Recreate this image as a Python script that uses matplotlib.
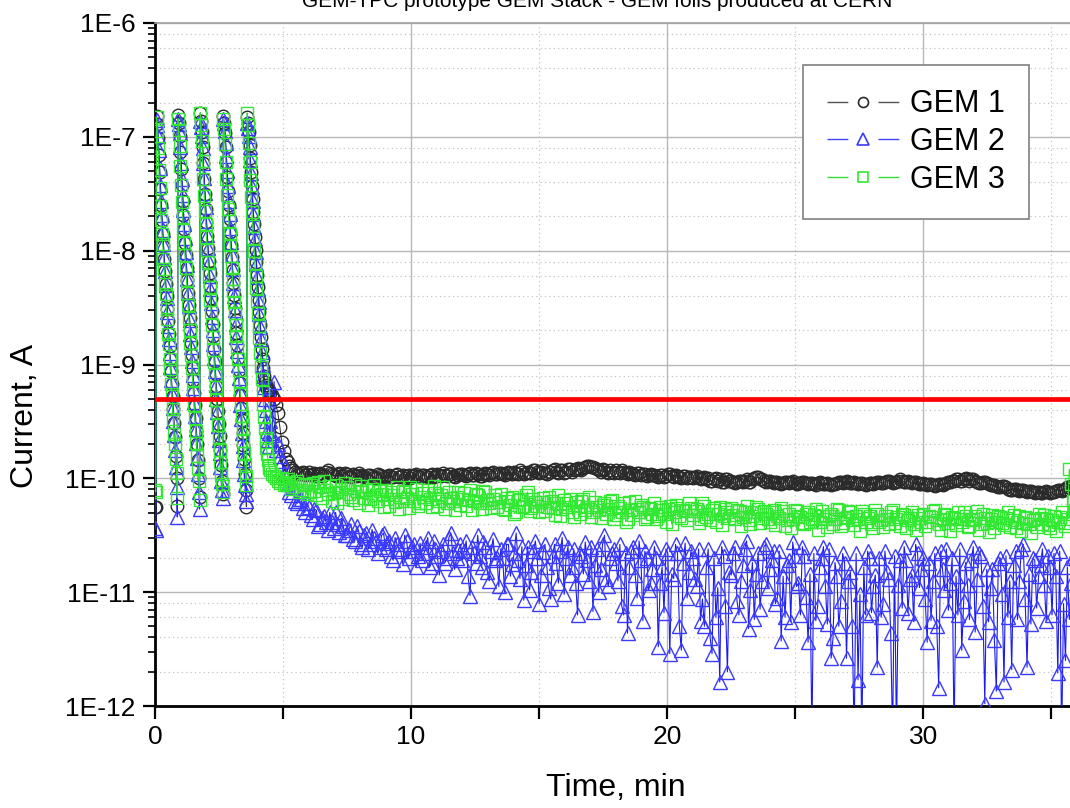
import numpy as np
import matplotlib
matplotlib.use('Agg')
import matplotlib.pyplot as plt
from matplotlib.lines import Line2D
from matplotlib.ticker import LogLocator, MultipleLocator, FuncFormatter, NullFormatter

plt.rcParams['font.family'] = ['Liberation Sans', 'DejaVu Sans']

# sampling of the readout: dense while the stack trips (0 - 4.5 min), sparser afterwards
spike_dt = 0.03
flat_t0 = 4.5
flat_dt = 0.15
# the *_mid lists sit halfway between the *_flat samples

# log10 of the current (A)
gem1_spikes = [
    -10.25, -10.25,
    -6.82, -6.89, -7.01, -7.16, -7.31, -7.46, -7.60, -7.73, -7.85, -7.96,
    -8.07, -8.18, -8.29, -8.40, -8.51, -8.62, -8.73, -8.84, -8.95, -9.06,
    -9.17, -9.28, -9.39, -9.51, -9.64, -9.80, -10.00, -10.24,
    -6.81, -6.88, -6.99, -7.13, -7.28, -7.42, -7.56, -7.69, -7.81, -7.93,
    -8.04, -8.15, -8.26, -8.37, -8.48, -8.59, -8.70, -8.81, -8.92, -9.03,
    -9.14, -9.25, -9.36, -9.47, -9.58, -9.70, -9.84, -10.00, -10.16,
    -6.79, -6.86, -6.96, -7.09, -7.23, -7.37, -7.50, -7.63, -7.75, -7.87,
    -7.98, -8.09, -8.20, -8.31, -8.42, -8.53, -8.64, -8.75, -8.86, -8.97,
    -9.08, -9.19, -9.30, -9.41, -9.52, -9.63, -9.75, -9.88, -10.02, -10.14,
    -6.82, -6.88, -6.97, -7.09, -7.22, -7.35, -7.48, -7.60, -7.72, -7.84,
    -7.95, -8.06, -8.17, -8.28, -8.39, -8.50, -8.61, -8.72, -8.83, -8.94,
    -9.05, -9.16, -9.27, -9.38, -9.49, -9.60, -9.71, -9.83, -9.96, -10.10, -10.25,
    -6.83, -6.88, -6.96, -7.07, -7.19, -7.31, -7.43, -7.55, -7.66, -7.77,
    -7.88, -7.99, -8.10, -8.21, -8.32, -8.43, -8.54, -8.65, -8.76, -8.86,
    -8.95, -9.03, -9.10, -9.15, -9.18, -9.20, -9.21, -9.22, -9.22, -9.23,
]
gem2_spikes = [
    -10.44, -10.45,
    -6.85, -6.90, -6.99, -7.12, -7.27, -7.42, -7.56, -7.69, -7.82, -7.94,
    -8.06, -8.18, -8.30, -8.42, -8.54, -8.66, -8.78, -8.90, -9.02, -9.14,
    -9.26, -9.38, -9.50, -9.62, -9.75, -9.90, -10.08, -10.34,
    -6.84, -6.89, -6.97, -7.09, -7.23, -7.37, -7.51, -7.64, -7.77, -7.89,
    -8.01, -8.13, -8.25, -8.37, -8.49, -8.61, -8.73, -8.85, -8.97, -9.09,
    -9.21, -9.33, -9.45, -9.57, -9.69, -9.82, -9.96, -10.12, -10.27,
    -6.86, -6.91, -6.99, -7.10, -7.23, -7.36, -7.49, -7.62, -7.74, -7.86,
    -7.98, -8.10, -8.22, -8.34, -8.46, -8.58, -8.70, -8.82, -8.94, -9.06,
    -9.18, -9.30, -9.42, -9.54, -9.66, -9.78, -9.90, -10.02, -10.10, -10.17,
    -6.84, -6.88, -6.95, -7.05, -7.17, -7.30, -7.43, -7.56, -7.68, -7.80,
    -7.92, -8.04, -8.16, -8.28, -8.40, -8.52, -8.64, -8.76, -8.88, -9.00,
    -9.12, -9.24, -9.36, -9.48, -9.60, -9.72, -9.84, -9.96, -10.06, -10.14, -10.20,
    -6.88, -6.92, -6.99, -7.09, -7.20, -7.32, -7.44, -7.56, -7.68, -7.79,
    -7.90, -8.01, -8.12, -8.23, -8.34, -8.45, -8.56, -8.67, -8.78, -8.89,
    -9.00, -9.10, -9.20, -9.30, -9.40, -9.50, -9.58, -9.66, -9.72, -9.60,
]
gem3_spikes = [
    -10.10, -10.12,
    -6.83, -6.95, -7.10, -7.29, -7.45, -7.61, -7.73, -7.85, -7.94, -8.07,
    -8.16, -8.29, -8.38, -8.51, -8.60, -8.73, -8.82, -8.95, -9.04, -9.17,
    -9.26, -9.39, -9.48, -9.61, -9.70, -9.83, -9.95, -10.17,
    -6.84, -6.94, -7.08, -7.26, -7.42, -7.57, -7.70, -7.82, -7.93, -8.04,
    -8.15, -8.26, -8.37, -8.48, -8.59, -8.70, -8.81, -8.92, -9.03, -9.14,
    -9.25, -9.36, -9.47, -9.58, -9.69, -9.80, -9.91, -10.02, -10.19,
    -6.79, -6.90, -7.04, -7.21, -7.37, -7.52, -7.65, -7.77, -7.88, -7.99,
    -8.10, -8.21, -8.32, -8.43, -8.54, -8.65, -8.76, -8.87, -8.98, -9.09,
    -9.20, -9.31, -9.42, -9.53, -9.64, -9.75, -9.86, -9.96, -10.05, -10.12,
    -6.84, -6.93, -7.06, -7.22, -7.37, -7.51, -7.63, -7.74, -7.85, -7.95,
    -8.05, -8.15, -8.25, -8.35, -8.45, -8.55, -8.65, -8.75, -8.85, -8.95,
    -9.05, -9.15, -9.25, -9.35, -9.45, -9.56, -9.67, -9.78, -9.89, -9.98, -10.06,
    -6.79, -6.90, -7.05, -7.22, -7.38, -7.53, -7.66, -7.78, -7.89, -8.00,
    -8.11, -8.22, -8.33, -8.44, -8.55, -8.66, -8.77, -8.90, -9.02, -9.13,
    -9.24, -9.35, -9.46, -9.56, -9.65, -9.73, -9.79, -9.84, -9.88, -9.91,
]

gem1_flat = [
    -9.25, -9.30, -9.43, -9.68, -9.83, -9.89, -9.93, -9.95, -9.95, -9.97,
    -9.94, -9.96, -9.98, -9.95, -9.97, -9.93, -9.96, -9.98, -9.95, -9.97,
    -9.96, -9.99, -9.97, -9.95, -9.98, -10.00, -9.97, -9.99, -9.96, -9.98,
    -10.00, -9.97, -9.99, -9.96, -9.98, -10.00, -9.97, -9.98, -9.96, -9.99,
    -9.97, -9.99, -9.96, -9.98, -9.97, -9.95, -9.98, -9.96, -9.99, -9.97,
    -9.96, -9.98, -9.95, -9.97, -9.96, -9.98, -9.95, -9.97, -9.94, -9.96,
    -9.95, -9.97, -9.94, -9.96, -9.95, -9.93, -9.96, -9.94, -9.95, -9.93,
    -9.95, -9.93, -9.96, -9.94, -9.92, -9.95, -9.93, -9.94, -9.92, -9.93,
    -9.91, -9.93, -9.90, -9.89, -9.90, -9.92, -9.94, -9.93, -9.95, -9.94,
    -9.93, -9.95, -9.94, -9.96, -9.95, -9.97, -9.95, -9.96, -9.98, -9.96,
    -9.97, -9.99, -9.97, -9.98, -9.96, -9.99, -9.98, -10.00, -9.98, -9.99,
    -10.00, -9.98, -10.01, -9.99, -10.00, -10.02, -10.00, -10.01, -10.03, -10.01,
    -10.02, -10.04, -10.02, -10.03, -10.01, -10.03, -10.00, -9.99, -10.01, -10.03,
    -10.02, -10.04, -10.03, -10.05, -10.03, -10.04, -10.02, -10.05, -10.04, -10.03,
    -10.05, -10.04, -10.06, -10.03, -10.05, -10.04, -10.06, -10.05, -10.03, -10.04,
    -10.02, -10.04, -10.03, -10.05, -10.04, -10.06, -10.04, -10.05, -10.03, -10.04,
    -10.03, -10.02, -10.04, -10.03, -10.01, -10.03, -10.02, -10.04, -10.03, -10.05,
    -10.04, -10.06, -10.05, -10.07, -10.05, -10.06, -10.04, -10.03, -10.02, -10.01,
    -10.02, -10.00, -10.02, -10.01, -10.03, -10.04, -10.03, -10.05, -10.06, -10.07,
    -10.08, -10.07, -10.09, -10.10, -10.09, -10.11, -10.10, -10.12, -10.11, -10.13,
    -10.12, -10.13, -10.11, -10.13, -10.12, -10.10, -10.11, -10.09, -10.08, -10.07, -10.08,
]
gem1_mid = [
    -9.27, -9.36, -9.55, -9.76, -9.86, -9.91, -9.94, -9.96, -9.94, -9.96,
    -9.97, -9.95, -9.96, -9.98, -9.94, -9.95, -9.97, -9.96, -9.98, -9.95,
    -9.98, -9.96, -9.98, -9.97, -9.99, -9.97, -9.98, -10.00, -9.97, -9.99,
    -9.98, -9.99, -9.97, -9.99, -9.97, -9.98, -10.00, -9.97, -9.98, -9.97,
    -9.98, -9.97, -9.99, -9.96, -9.98, -9.97, -9.96, -9.98, -9.97, -9.96,
    -9.97, -9.96, -9.97, -9.95, -9.98, -9.96, -9.96, -9.95, -9.96, -9.95,
    -9.96, -9.95, -9.95, -9.94, -9.96, -9.94, -9.95, -9.95, -9.93, -9.94,
    -9.94, -9.95, -9.94, -9.93, -9.94, -9.93, -9.95, -9.92, -9.94, -9.92,
    -9.92, -9.91, -9.89, -9.90, -9.91, -9.93, -9.92, -9.94, -9.93, -9.95,
    -9.94, -9.93, -9.95, -9.94, -9.96, -9.95, -9.97, -9.96, -9.97, -9.97,
    -9.98, -9.97, -9.99, -9.96, -9.98, -9.97, -9.99, -9.98, -10.00, -9.99,
    -9.99, -10.00, -10.00, -10.01, -10.02, -10.01, -10.02, -10.03, -10.01, -10.02,
    -10.03, -10.03, -10.02, -10.02, -10.03, -10.01, -9.99, -10.01, -10.02, -10.02,
    -10.03, -10.03, -10.04, -10.04, -10.03, -10.03, -10.04, -10.04, -10.03, -10.04,
    -10.04, -10.05, -10.04, -10.04, -10.05, -10.05, -10.05, -10.04, -10.03, -10.03,
    -10.03, -10.04, -10.04, -10.04, -10.05, -10.05, -10.04, -10.04, -10.03, -10.04,
    -10.02, -10.03, -10.03, -10.02, -10.02, -10.03, -10.03, -10.03, -10.04, -10.05,
    -10.05, -10.05, -10.06, -10.06, -10.05, -10.05, -10.03, -10.02, -10.01, -10.02,
    -10.01, -10.01, -10.01, -10.02, -10.04, -10.03, -10.04, -10.06, -10.06, -10.08,
    -10.07, -10.08, -10.10, -10.09, -10.10, -10.10, -10.11, -10.11, -10.12, -10.12,
    -10.13, -10.12, -10.12, -10.12, -10.11, -10.10, -10.10, -10.08, -10.07, -10.08,
]
# values below 1E-12 (the lines that run out of the bottom) are kept at -12.3
gem2_flat = [
    -9.50, -9.15, -9.70, -9.85, -10.00, -10.12, -10.08, -10.22, -10.18, -10.30,
    -10.25, -10.36, -10.28, -10.40, -10.33, -10.45, -10.38, -10.30, -10.47, -10.42,
    -10.50, -10.40, -10.55, -10.46, -10.60, -10.48, -10.58, -10.52, -10.66, -10.50,
    -10.62, -10.55, -10.72, -10.58, -10.64, -10.50, -10.70, -10.60, -10.78, -10.57,
    -10.66, -10.52, -10.74, -10.62, -10.85, -10.58, -10.70, -10.48, -10.80, -10.63,
    -10.72, -10.55, -11.03, -10.66, -10.50, -10.78, -10.60, -10.90, -10.53, -10.70,
    -10.62, -11.00, -10.58, -10.75, -10.48, -10.88, -11.07, -10.60, -10.82, -10.55,
    -11.10, -10.65, -10.78, -11.06, -10.58, -10.92, -10.52, -10.70, -10.85, -10.62,
    -11.20, -10.68, -10.56, -10.90, -11.17, -10.62, -10.80, -10.50, -10.95, -10.66,
    -10.74, -10.58, -11.20, -11.36, -10.64, -10.85, -10.55, -11.25, -10.70, -10.92,
    -10.60, -11.48, -10.78, -10.62, -11.54, -10.88, -10.66, -11.51, -10.57, -10.82,
    -10.70, -10.95, -11.25, -11.30, -10.62, -11.54, -11.22, -11.79, -10.68, -11.70,
    -10.85, -10.60, -11.20, -10.76, -10.55, -10.98, -11.24, -10.66, -10.90, -10.58,
    -10.80, -10.64, -11.05, -11.43, -11.22, -10.72, -10.56, -10.95, -11.20, -10.68,
    -11.44, -12.30, -11.25, -10.78, -10.60, -11.28, -11.58, -10.74, -11.30, -10.66,
    -11.58, -10.82, -12.30, -11.77, -12.30, -11.20, -10.70, -10.95, -11.66, -11.22,
    -10.64, -10.88, -12.30, -12.30, -10.72, -10.60, -11.18, -10.85, -10.58, -10.96,
    -10.70, -11.44, -11.25, -10.66, -11.84, -10.80, -10.62, -10.92, -12.30, -11.20,
    -11.51, -10.74, -11.24, -10.60, -10.88, -10.68, -11.98, -11.26, -10.80, -11.87,
    -10.70, -11.79, -11.22, -11.68, -10.64, -10.90, -10.58, -11.66, -11.28, -10.72,
    -10.86, -10.62, -11.25, -10.78, -10.66, -11.71, -12.30, -11.60, -11.24, -10.70, -10.85,
]
gem2_mid = [
    -9.62, -9.75, -9.80, -9.95, -10.05, -10.15, -10.20, -10.18, -10.26, -10.22,
    -10.32, -10.27, -10.42, -10.35, -10.38, -10.30, -10.44, -10.40, -10.35, -10.50,
    -10.45, -10.53, -10.42, -10.58, -10.50, -10.62, -10.45, -10.55, -10.60, -10.48,
    -10.57, -10.68, -10.52, -10.62, -10.75, -10.55, -10.64, -10.58, -10.68, -10.72,
    -10.60, -10.78, -10.55, -10.68, -10.64, -10.74, -10.52, -10.66, -10.70, -10.58,
    -10.64, -10.86, -10.60, -10.74, -10.68, -10.56, -10.82, -10.64, -10.72, -10.95,
    -10.70, -10.58, -10.86, -10.66, -10.72, -10.60, -10.76, -10.98, -10.64, -10.70,
    -10.85, -10.58, -10.96, -10.68, -10.74, -10.64, -11.02, -10.60, -10.78, -10.92,
    -10.66, -10.84, -10.72, -10.60, -10.76, -11.00, -10.58, -10.88, -10.70, -10.62,
    -10.90, -11.12, -10.66, -10.78, -10.60, -11.05, -10.72, -10.64, -10.98, -10.80,
    -10.70, -10.92, -11.18, -10.66, -10.84, -10.58, -11.30, -10.74, -11.05, -10.64,
    -10.88, -10.62, -11.06, -10.78, -11.40, -10.70, -10.96, -10.60, -11.12, -10.82,
    -10.66, -11.08, -10.90, -10.62, -11.32, -10.74, -10.84, -11.15, -10.60, -10.96,
    -10.72, -11.10, -10.64, -10.86, -10.76, -11.26, -10.68, -10.92, -10.60, -11.04,
    -10.84, -10.66, -11.12, -10.70, -10.95, -10.62, -11.40, -10.86, -11.08, -10.74,
    -10.90, -11.30, -10.66, -11.02, -10.78, -10.64, -11.18, -10.85, -10.70, -11.10,
    -10.82, -11.36, -10.68, -10.94, -11.14, -10.72, -10.88, -11.26, -10.66, -10.80,
    -11.06, -10.74, -10.90, -11.30, -10.64, -10.98, -11.16, -10.70, -10.86, -10.62,
    -11.08, -10.94, -10.72, -11.35, -10.66, -11.12, -10.80, -10.96, -11.42, -10.74,
    -11.02, -10.68, -10.90, -10.76, -11.24, -10.62, -11.06, -10.84, -10.70, -11.14,
    -10.76, -10.94, -10.68, -11.20, -10.86, -10.64, -11.10, -10.78, -10.92, -10.66,
]
gem3_flat = [
    -9.93, -9.98, -10.02, -10.00, -10.05, -10.03, -10.08, -10.02, -10.10, -10.05,
    -10.12, -10.04, -10.15, -10.08, -10.02, -10.14, -10.20, -10.06, -10.12, -10.18,
    -10.08, -10.16, -10.05, -10.22, -10.12, -10.10, -10.18, -10.06, -10.20, -10.14,
    -10.10, -10.24, -10.15, -10.08, -10.20, -10.12, -10.26, -10.14, -10.09, -10.22,
    -10.16, -10.10, -10.25, -10.13, -10.20, -10.08, -10.22, -10.17, -10.28, -10.12,
    -10.18, -10.24, -10.10, -10.20, -10.15, -10.27, -10.12, -10.22, -10.18, -10.25,
    -10.14, -10.28, -10.20, -10.16, -10.30, -10.18, -10.24, -10.12, -10.26, -10.21,
    -10.30, -10.17, -10.25, -10.20, -10.32, -10.15, -10.27, -10.22, -10.18, -10.34,
    -10.24, -10.20, -10.28, -10.16, -10.30, -10.25, -10.35, -10.22, -10.27, -10.19,
    -10.32, -10.26, -10.22, -10.36, -10.28, -10.20, -10.30, -10.25, -10.34, -10.27,
    -10.22, -10.33, -10.28, -10.38, -10.24, -10.30, -10.26, -10.35, -10.29, -10.22,
    -10.32, -10.27, -10.36, -10.24, -10.31, -10.28, -10.38, -10.25, -10.33, -10.30,
    -10.26, -10.36, -10.29, -10.34, -10.24, -10.40, -10.30, -10.27, -10.35, -10.31,
    -10.38, -10.28, -10.33, -10.26, -10.42, -10.31, -10.36, -10.29, -10.34, -10.40,
    -10.30, -10.36, -10.27, -10.38, -10.33, -10.43, -10.31, -10.36, -10.28, -10.39,
    -10.34, -10.30, -10.41, -10.36, -10.29, -10.38, -10.33, -10.44, -10.31, -10.37,
    -10.33, -10.40, -10.28, -10.36, -10.42, -10.32, -10.37, -10.30, -10.45, -10.35,
    -10.31, -10.38, -10.34, -10.28, -10.40, -10.36, -10.32, -10.46, -10.35, -10.30,
    -10.38, -10.33, -10.42, -10.36, -10.29, -10.40, -10.35, -10.47, -10.32, -10.38,
    -10.34, -10.41, -10.30, -10.37, -10.44, -10.33, -10.39, -10.35, -10.48, -10.36,
    -10.31, -10.40, -10.36, -10.44, -10.33, -10.38, -10.30, -10.42, -9.92, -10.20, -10.34,
]
gem3_mid = [
    -9.96, -10.00, -10.04, -10.06, -10.01, -10.09, -10.04, -10.12, -10.06, -10.14,
    -10.06, -10.11, -10.03, -10.17, -10.10, -10.07, -10.13, -10.22, -10.09, -10.04,
    -10.14, -10.19, -10.11, -10.07, -10.17, -10.23, -10.09, -10.15, -10.11, -10.25,
    -10.18, -10.12, -10.21, -10.27, -10.11, -10.17, -10.08, -10.20, -10.24, -10.13,
    -10.22, -10.18, -10.07, -10.24, -10.15, -10.27, -10.12, -10.20, -10.16, -10.23,
    -10.13, -10.19, -10.28, -10.14, -10.22, -10.11, -10.19, -10.26, -10.15, -10.21,
    -10.27, -10.17, -10.23, -10.31, -10.19, -10.25, -10.15, -10.29, -10.18, -10.24,
    -10.21, -10.29, -10.16, -10.26, -10.22, -10.33, -10.19, -10.25, -10.30, -10.21,
    -10.31, -10.18, -10.25, -10.34, -10.21, -10.28, -10.23, -10.31, -10.20, -10.36,
    -10.24, -10.30, -10.38, -10.21, -10.32, -10.27, -10.23, -10.36, -10.26, -10.31,
    -10.36, -10.25, -10.31, -10.27, -10.40, -10.23, -10.33, -10.28, -10.37, -10.26,
    -10.29, -10.39, -10.22, -10.34, -10.37, -10.26, -10.31, -10.41, -10.27, -10.35,
    -10.32, -10.28, -10.42, -10.30, -10.37, -10.33, -10.25, -10.39, -10.29, -10.36,
    -10.30, -10.41, -10.35, -10.29, -10.37, -10.44, -10.28, -10.33, -10.39, -10.31,
    -10.38, -10.32, -10.45, -10.29, -10.36, -10.33, -10.40, -10.27, -10.42, -10.35,
    -10.29, -10.37, -10.33, -10.46, -10.31, -10.35, -10.40, -10.28, -10.38, -10.43,
    -10.36, -10.30, -10.39, -10.34, -10.31, -10.44, -10.35, -10.40, -10.32, -10.38,
    -10.42, -10.33, -10.29, -10.37, -10.45, -10.31, -10.39, -10.34, -10.41, -10.36,
    -10.30, -10.43, -10.37, -10.33, -10.45, -10.31, -10.39, -10.36, -10.44, -10.33,
    -10.39, -10.35, -10.43, -10.32, -10.38, -10.46, -10.34, -10.40, -10.37, -10.43,
    -10.35, -10.32, -10.41, -10.37, -10.46, -10.34, -10.39, -10.36, -10.05, -10.28,
]

trip_limit = 5e-10
series_names = ['GEM 1', 'GEM 2', 'GEM 3']
title = 'GEM-TPC prototype GEM Stack - GEM foils produced at CERN'

# line colour, marker edge colour, marker, marker size
styles = [
    ('#3a3a3a', '#2a2a2a', 'o', 9),
    ('#1c1cf0', '#3a3aff', '^', 10.5),
    ('#2ade2a', '#33e833', 's', 8.5),
]


def series_points(spikes, flat, mid):
    t = np.concatenate([
        np.arange(len(spikes)) * spike_dt,
        flat_t0 + np.arange(len(flat)) * flat_dt,
        flat_t0 + flat_dt / 2 + np.arange(len(mid)) * flat_dt,
    ])
    logi = np.array(spikes + flat + mid)
    order = np.argsort(t, kind='stable')
    return t[order], 10.0 ** logi[order]


def draw_series(ax, spikes, flat, mid, style):
    line_c, edge_c, marker, ms = style
    t, current = series_points(spikes, flat, mid)
    ax.plot(t, current, color=line_c, lw=0.8, marker=marker, ms=ms,
            mfc='none', mec=edge_c, mew=1.0, zorder=3)


def legend_handles():
    # Origin style key: line - gap - symbol - gap - line
    handles = []
    legend_line = ['#555555', '#4444ee', '#33dd33']
    for (line_c, edge_c, marker, ms), lc in zip(styles, legend_line):
        handles.append(Line2D([], [], color=lc, lw=1.0, ls=(0, (15, 21.7, 15, 60)),
                              marker=marker, ms=ms * 0.8, mfc='none', mec=edge_c, mew=1.2))
    return handles


def main():
    fig = plt.figure(figsize=(10.7, 8.08), dpi=100)
    # plot area runs a bit past the right border of the picture, like the cropped original
    ax = fig.add_axes([155 / 1070, 102 / 808, 922 / 1070, 683 / 808])

    draw_series(ax, gem1_spikes, gem1_flat, gem1_mid, styles[0])
    draw_series(ax, gem2_spikes, gem2_flat, gem2_mid, styles[1])
    draw_series(ax, gem3_spikes, gem3_flat, gem3_mid, styles[2])

    ax.axhline(trip_limit, color='#ff0000', lw=3.4, zorder=5)

    ax.set_yscale('log')
    ax.set_ylim(1e-12, 1e-6)
    ax.set_xlim(0, 36)

    ax.yaxis.set_major_locator(LogLocator(base=10, numticks=10))
    ax.yaxis.set_minor_locator(LogLocator(base=10, subs=range(2, 10), numticks=20))
    ax.yaxis.set_major_formatter(FuncFormatter(lambda v, p: '1E%d' % round(np.log10(v))))
    ax.yaxis.set_minor_formatter(NullFormatter())
    ax.xaxis.set_major_locator(MultipleLocator(10))
    ax.xaxis.set_minor_locator(MultipleLocator(5))

    # grid: solid at decades / every 10 min, dotted in between
    ax.grid(which='major', color='#b8b8b8', lw=1.0, zorder=0)
    for d in range(-12, -6):
        for m in (2, 4, 6, 8):
            ax.axhline(m * 10.0 ** d, color='#c4c4c4', lw=0.9, ls=(0, (1, 2.5)), zorder=0)
    for x in (5, 15, 25, 35):
        ax.axvline(x, color='#c4c4c4', lw=0.9, ls=(0, (1, 2.5)), zorder=0)

    ax.tick_params(axis='both', which='major', direction='out', length=9, width=1.6,
                   labelsize=19, pad=5)
    ax.tick_params(axis='y', which='minor', direction='out', length=5, width=1.2)
    ax.tick_params(axis='x', which='minor', direction='out', length=9, width=1.6)

    for side in ('left', 'bottom'):
        ax.spines[side].set_linewidth(2)
    ax.spines['right'].set_visible(False)
    ax.spines['top'].set_color('#a0a0a0')
    ax.spines['top'].set_linewidth(1.2)

    ax.set_xlabel('Time, min', fontsize=23)
    ax.xaxis.set_label_coords(0.5, -0.098)
    ax.set_ylabel('Current, A', fontsize=23)
    ax.yaxis.set_label_coords(-0.125, 0.425)

    leg = ax.legend(legend_handles(), series_names, loc='upper right',
                    bbox_to_anchor=(1029 / 1070, 1 - 65 / 808),
                    bbox_transform=fig.transFigure, fontsize=22, frameon=True,
                    fancybox=False, edgecolor='#808080', framealpha=1,
                    borderpad=0.8, labelspacing=0.25, handlelength=2.35,
                    handletextpad=0.35, borderaxespad=0)
    leg.get_frame().set_linewidth(1.2)

    fig.text(597 / 1070, 1 - 7 / 808, title, ha='center', va='baseline', fontsize=15)

    plt.savefig('out.png', dpi=100)


if __name__ == "__main__":
    main()
